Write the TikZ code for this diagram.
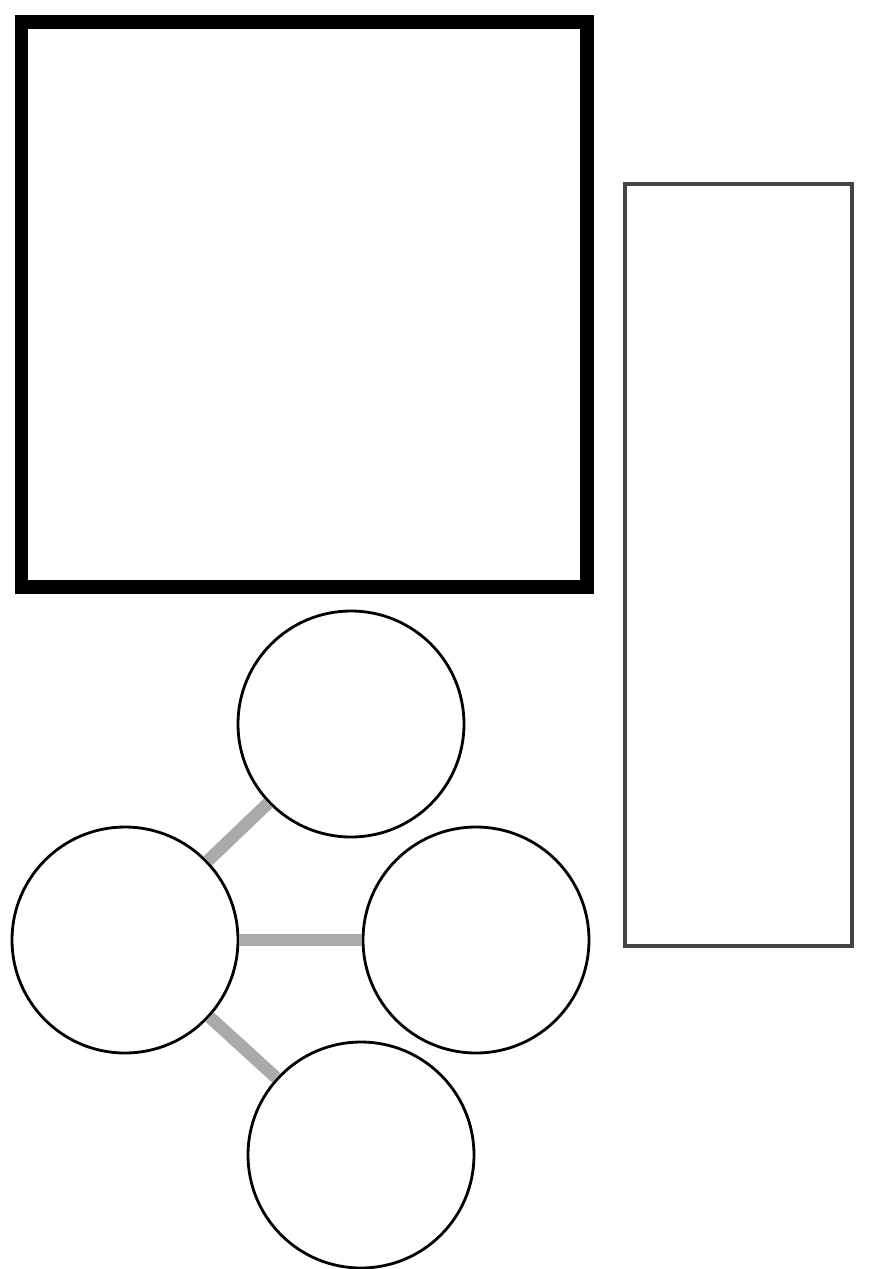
\documentclass[tikz,border=0pt]{standalone}
\begin{document}
\begin{tikzpicture}[x=1pt,y=-1pt,
  ball/.style={circle,draw=black,line width=2.8pt,minimum size=226pt,inner sep=0pt,fill=white},
  link/.style={draw={rgb,255:red,170;green,170;blue,170},line width=12.5pt}]
\useasboundingbox (0,0) rectangle (869,1269);
\draw[line width=13.5pt,line join=miter] (21.5,22) rectangle (587,587);
\node[draw={rgb,255:red,68;green,68;blue,68},line width=3.5pt,minimum width=227pt,minimum height=762pt,inner sep=0pt] (panel) at (738.5,565) {};
\node[ball] (top) at (351,724) {};
\node[ball] (left) at (125,940) {};
\node[ball] (right) at (476,940) {};
\node[ball] (bottom) at (361,1155) {};
\draw[link] (left) -- (top);
\draw[link] (left) -- (right);
\draw[link] (left) -- (bottom);
\end{tikzpicture}
\end{document}
